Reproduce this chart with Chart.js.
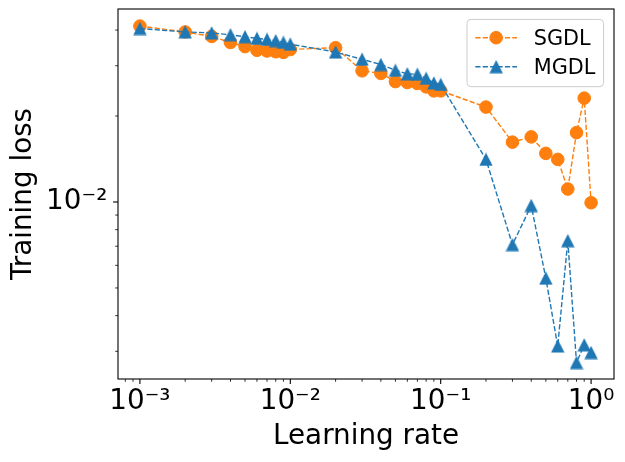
<!DOCTYPE html>
<html>
<head>
<meta charset="utf-8">
<script src="https://cdn.jsdelivr.net/npm/chart.js@4.4.1/dist/chart.umd.min.js"></script>
<style>
  html, body { margin: 0; padding: 0; background: #fff; }
  #wrap { width: 625px; height: 462px; }
</style>
</head>
<body>
<div id="wrap"><canvas id="chart" width="625" height="462"></canvas></div>
<script>
//-------------------------------------------------------------------
// data
//-------------------------------------------------------------------
const learningRates = [0.001, 0.002, 0.003, 0.004, 0.005, 0.006, 0.007, 0.008, 0.009,
                       0.01, 0.02, 0.03, 0.04, 0.05, 0.06, 0.07, 0.08, 0.09,
                       0.1, 0.2, 0.3, 0.4, 0.5, 0.6, 0.7, 0.8, 0.9, 1.0];

const sgdlLoss = [0.0413, 0.0394, 0.0380, 0.0362, 0.0350, 0.0340, 0.0338, 0.0336, 0.0334,
                  0.0342, 0.0347, 0.0288, 0.0282, 0.0264, 0.0262, 0.0260, 0.0253, 0.0245,
                  0.0245, 0.0215, 0.0162, 0.0169, 0.0148, 0.0141, 0.0111, 0.0175, 0.0231, 0.00994];

const mgdlLoss = [0.0405, 0.0394, 0.0391, 0.0385, 0.0379, 0.0374, 0.0371, 0.0367, 0.0362,
                  0.0357, 0.0335, 0.0316, 0.0303, 0.0289, 0.0281, 0.0280, 0.0271, 0.0261,
                  0.0258, 0.0141, 0.00709, 0.00972, 0.00541, 0.00313, 0.00732, 0.00274, 0.00316, 0.00297];

const xMajorTicks = [0.001, 0.01, 0.1, 1];
const yMajorTicks = [0.01];
const yMinorTicks = [0.003, 0.004, 0.005, 0.006, 0.007, 0.008, 0.009, 0.02, 0.03, 0.04];

const seriesNames = ['SGDL', 'MGDL'];
const seriesColors = ['#ff7f0e', '#1f77b4'];

//-------------------------------------------------------------------
// helpers
//-------------------------------------------------------------------
const SUP = { '-': '\u207B', '0': '\u2070', '1': '\u00B9', '2': '\u00B2', '3': '\u00B3',
              '4': '\u2074', '5': '\u2075', '6': '\u2076', '7': '\u2077', '8': '\u2078', '9': '\u2079' };

function powLabel(v) {
  let e = String(Math.round(Math.log10(v)));
  return '10' + e.split('').map(c => SUP[c]).join('');
}

function xMinorTicks(min, max) {
  let out = [];
  for (let d = -4; d <= 0; d++) {
    for (let m = 2; m <= 9; m++) {
      let v = m * Math.pow(10, d);
      if (v >= min && v <= max) out.push(v);
    }
  }
  return out;
}

function makeTriangle(color) {
  let c = document.createElement('canvas');
  c.width = 14; c.height = 14;
  let g = c.getContext('2d');
  g.fillStyle = color;
  g.beginPath();
  g.moveTo(7, 0.3);
  g.lineTo(13.7, 13.5);
  g.lineTo(0.3, 13.5);
  g.closePath();
  g.fill();
  return c;
}

// no label overflow padding, the plot box is fixed like matplotlib's axes
function fixBox(scale, w, h) {
  if (w) scale.width = w;
  if (h) scale.height = h;
  scale.paddingTop = 0;
  scale.paddingBottom = 0;
  scale.paddingLeft = 0;
  scale.paddingRight = 0;
}

const FONT = 'DejaVu Sans';
const X_MIN = 7.15e-4, X_MAX = 1.42;
const Y_MIN = 0.0024, Y_MAX = 0.0474;
const triangleImg = makeTriangle(seriesColors[1]);

//-------------------------------------------------------------------
// plugins: matplotlib-style frame, ticks and legend
//-------------------------------------------------------------------
const framePlugin = {
  id: 'frameTicks',
  afterDraw(chart) {
    const ctx = chart.ctx, a = chart.chartArea;
    const xs = chart.scales.x, ys = chart.scales.y;
    ctx.save();
    ctx.strokeStyle = '#000';

    const tick = (list, len, lw, horiz) => {
      ctx.lineWidth = lw;
      ctx.beginPath();
      list.forEach(v => {
        if (horiz) {
          let p = xs.getPixelForValue(v);
          ctx.moveTo(p, a.bottom); ctx.lineTo(p, a.bottom + len);
        } else {
          let p = ys.getPixelForValue(v);
          ctx.moveTo(a.left, p); ctx.lineTo(a.left - len, p);
        }
      });
      ctx.stroke();
    };
    tick(xMajorTicks.filter(v => v >= X_MIN && v <= X_MAX), 4.9, 1.1, true);
    tick(xMinorTicks(X_MIN, X_MAX), 2.8, 0.8, true);
    tick(yMajorTicks, 4.9, 1.1, false);
    tick(yMinorTicks, 2.8, 0.8, false);

    ctx.lineWidth = 1.1;
    ctx.strokeRect(a.left, a.top, a.right - a.left, a.bottom - a.top);
    ctx.restore();
  }
};

const legendPlugin = {
  id: 'mplLegend',
  afterDraw(chart) {
    const ctx = chart.ctx, a = chart.chartArea;
    const fs = 20.8;
    const w = 136.6, h = 67.3;
    const x0 = a.right - 10.4 - w, y0 = a.top + 10.4;

    ctx.save();
    ctx.beginPath();
    ctx.roundRect(x0, y0, w, h, 4);
    ctx.fillStyle = 'rgba(255,255,255,0.8)';
    ctx.fill();
    ctx.strokeStyle = '#cccccc';
    ctx.lineWidth = 1;
    ctx.stroke();

    chart.data.datasets.forEach((ds, i) => {
      const cy = y0 + 18.3 + i * 29;
      const hx0 = x0 + 8.3, hx1 = hx0 + 41.7, cx = (hx0 + hx1) / 2;
      ctx.strokeStyle = ds.borderColor;
      ctx.lineWidth = ds.borderWidth;
      ctx.setLineDash(ds.borderDash);
      ctx.beginPath();
      ctx.moveTo(hx0, cy); ctx.lineTo(hx1, cy);
      ctx.stroke();
      ctx.setLineDash([]);

      if (ds.pointStyle === 'circle') {
        ctx.beginPath();
        ctx.arc(cx, cy, ds.pointRadius, 0, Math.PI * 2);
        ctx.fillStyle = ds.pointBackgroundColor;
        ctx.fill();
        ctx.lineWidth = ds.pointBorderWidth;
        ctx.strokeStyle = ds.pointBorderColor;
        ctx.stroke();
      } else {
        ctx.drawImage(ds.pointStyle, cx - ds.pointStyle.width / 2, cy - ds.pointStyle.height / 2);
      }

      ctx.fillStyle = '#000';
      ctx.font = fs + 'px "' + FONT + '"';
      ctx.textBaseline = 'alphabetic';
      ctx.textAlign = 'left';
      ctx.fillText(ds.label, hx1 + 16.7, cy + 7.6);
    });
    ctx.restore();
  }
};

//-------------------------------------------------------------------
// chart
//-------------------------------------------------------------------
Chart.defaults.color = '#000';
Chart.defaults.font.family = FONT;

const toPoints = (ys) => learningRates.map((x, i) => ({ x: x, y: ys[i] }));

new Chart(document.getElementById('chart').getContext('2d'), {
  type: 'line',
  data: {
    datasets: [
      {
        label: seriesNames[0],
        data: toPoints(sgdlLoss),
        order: 1,
        borderColor: seriesColors[0],
        borderWidth: 1.4,
        borderDash: [5.2, 2.2],
        pointStyle: 'circle',
        pointRadius: 6.3,
        pointBorderWidth: 1,
        pointBackgroundColor: seriesColors[0],
        pointBorderColor: seriesColors[0],
        tension: 0,
        fill: false
      },
      {
        label: seriesNames[1],
        data: toPoints(mgdlLoss),
        order: 0,
        borderColor: seriesColors[1],
        borderWidth: 1.4,
        borderDash: [5.2, 2.2],
        pointStyle: triangleImg,
        pointRadius: 7,
        pointBackgroundColor: seriesColors[1],
        pointBorderColor: seriesColors[1],
        tension: 0,
        fill: false
      }
    ]
  },
  options: {
    responsive: false,
    animation: false,
    events: [],
    layout: { autoPadding: false, padding: { top: 9, right: 11, left: 0, bottom: 0 } },
    plugins: { legend: { display: false }, tooltip: { enabled: false } },
    scales: {
      x: {
        type: 'logarithmic',
        min: X_MIN,
        max: X_MAX,
        afterBuildTicks: (scale) => { scale.ticks = xMajorTicks.map(v => ({ value: v, major: true })); },
        afterFit: (scale) => { fixBox(scale, 0, 83); },
        grid: { drawOnChartArea: false, drawTicks: false },
        border: { display: false },
        ticks: {
          autoSkip: false,
          maxRotation: 0,
          padding: 6.3,
          font: { size: 27.8 },
          callback: (v) => powLabel(v)
        },
        title: {
          display: true,
          text: 'Learning rate',
          font: { size: 27.8 },
          padding: { top: 0, bottom: 8.5 }
        }
      },
      y: {
        type: 'logarithmic',
        min: Y_MIN,
        max: Y_MAX,
        afterBuildTicks: (scale) => { scale.ticks = yMajorTicks.map(v => ({ value: v, major: true })); },
        afterFit: (scale) => { fixBox(scale, 118, 0); },
        grid: { drawOnChartArea: false, drawTicks: false },
        border: { display: false },
        ticks: {
          autoSkip: false,
          padding: 10.7,
          font: { size: 27.8 },
          callback: (v) => powLabel(v)
        },
        title: {
          display: true,
          text: 'Training loss',
          font: { size: 27.8 },
          padding: { top: 6.8, bottom: 0 }
        }
      }
    }
  },
  plugins: [framePlugin, legendPlugin]
});
</script>
</body>
</html>
